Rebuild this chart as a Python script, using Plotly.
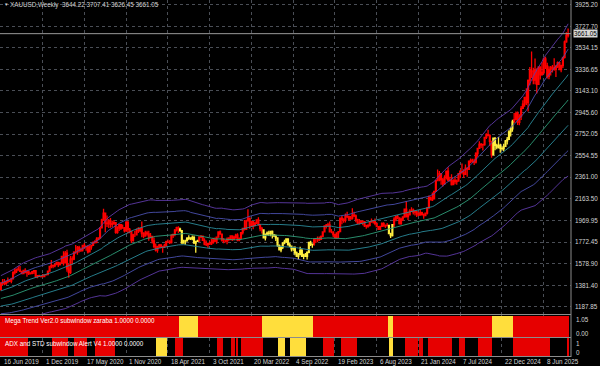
import numpy as np
import pandas as pd
import plotly.graph_objects as go

# ---------------- DATA ----------------
# weekly closes before the visible window (Jul 2018 - 9 Jun 2019), only used by the band indicator
hist_close = [1255, 1241, 1231, 1222, 1214, 1212, 1184, 1206, 1201, 1198, 1194, 1201, 1192, 1203,
              1218, 1227, 1233, 1232, 1209, 1222, 1222, 1222, 1248, 1238, 1257, 1278, 1286,
              1290, 1281, 1303, 1318, 1314, 1322, 1329, 1294, 1298, 1303, 1313, 1292, 1291, 1291,
              1276, 1286, 1280, 1286, 1277, 1284, 1305, 1341, 1341]

first_open = 1341.0

# visible weekly bars, 16 Jun 2019 ... 14 Sep 2025
close = [
    # 2019
    1400, 1409, 1399, 1415, 1426, 1419, 1440, 1496, 1513, 1527, 1520, 1507, 1488, 1516, 1497, 1504,
    1488, 1490, 1505, 1514, 1459, 1468, 1462, 1463, 1460, 1476, 1478, 1510, 1552,
    # 2020
    1562, 1557, 1571, 1589, 1570, 1584, 1643, 1585, 1673, 1530, 1498, 1618, 1620, 1683, 1683, 1726,
    1700, 1702, 1743, 1735, 1730, 1684, 1730, 1743, 1771, 1774, 1798, 1810, 1902, 1975, 2035, 1944,
    1940, 1964, 1934, 1940, 1950, 1861, 1900, 1930, 1899, 1902, 1878, 1951, 1889, 1871, 1788, 1839,
    1839, 1881, 1877, 1898,
    # 2021
    1849, 1828, 1856, 1847, 1814, 1824, 1784, 1734, 1700, 1727, 1745, 1732, 1728, 1744, 1777, 1777,
    1769, 1831, 1843, 1881, 1903, 1891, 1877, 1764, 1781, 1784, 1808, 1812, 1802, 1814, 1763, 1780,
    1781, 1819, 1827, 1788, 1754, 1750, 1761, 1757, 1768, 1793, 1783, 1818, 1865, 1846, 1792, 1783,
    1783, 1798, 1811, 1829,
    # 2022
    1797, 1817, 1835, 1791, 1807, 1859, 1898, 1889, 1966, 1989, 1921, 1958, 1925, 1946, 1974, 1931,
    1896, 1883, 1811, 1846, 1853, 1851, 1871, 1839, 1827, 1811, 1742, 1703, 1727, 1766, 1775, 1802,
    1747, 1737, 1712, 1717, 1675, 1644, 1660, 1695, 1644, 1657, 1644, 1681, 1771, 1751, 1755, 1797,
    1797, 1793, 1798, 1824,
    # 2023
    1865, 1920, 1926, 1928, 1865, 1865, 1842, 1811, 1856, 1868, 1989, 1978, 1969, 2007, 2004, 1982,
    1990, 2017, 2011, 1977, 1946, 1948, 1961, 1958, 1921, 1919, 1925, 1955, 1962, 1959, 1942, 1913,
    1889, 1915, 1940, 1919, 1924, 1925, 1849, 1833, 1932, 1981, 2006, 1993, 1940, 1981, 2002, 2072,
    2004, 2019, 2053, 2063,
    # 2024
    2045, 2049, 2029, 2018, 2039, 2024, 2013, 2035, 2083, 2179, 2155, 2165, 2233, 2330, 2344, 2392,
    2337, 2301, 2360, 2415, 2334, 2327, 2293, 2332, 2321, 2326, 2392, 2411, 2400, 2386, 2442, 2431,
    2507, 2512, 2503, 2497, 2577, 2622, 2658, 2653, 2657, 2721, 2747, 2737, 2685, 2563, 2715, 2650,
    2633, 2648, 2622, 2621, 2640,
    # 2025
    2690, 2703, 2771, 2798, 2861, 2883, 2936, 2858, 2910, 2984, 3022, 3084, 3037, 3237, 3327, 3319,
    3240, 3325, 3203, 3358, 3289, 3310, 3432, 3368, 3274, 3337, 3355, 3350, 3337, 3362, 3398, 3336,
    3371, 3447, 3586, 3644.22, 3661.05,
]

high = [
    1411, 1439, 1438, 1426, 1453, 1433, 1449, 1510, 1535, 1530, 1555, 1557, 1511, 1523, 1535, 1519,
    1517, 1499, 1507, 1518, 1516, 1472, 1478, 1467, 1485, 1481, 1483, 1514, 1553,
    1611, 1563, 1576, 1591, 1591, 1585, 1649, 1689, 1692, 1703, 1575, 1646, 1645, 1690, 1747, 1738,
    1740, 1722, 1744, 1765, 1735, 1745, 1745, 1746, 1779, 1789, 1818, 1818, 1903, 1984, 2075, 2040,
    2015, 1982, 1992, 1966, 1973, 1951, 1917, 1931, 1933, 1932, 1910, 1965, 1966, 1900, 1875, 1848,
    1875, 1896, 1907, 1900,
    1959, 1863, 1875, 1875, 1875, 1855, 1826, 1815, 1760, 1740, 1755, 1756, 1740, 1758, 1785, 1797,
    1790, 1845, 1845, 1891, 1912, 1916, 1903, 1878, 1795, 1795, 1818, 1834, 1816, 1832, 1832, 1782,
    1794, 1823, 1834, 1827, 1808, 1787, 1764, 1781, 1800, 1813, 1814, 1818, 1869, 1877, 1849, 1808,
    1793, 1815, 1816, 1831,
    1831, 1830, 1848, 1853, 1814, 1865, 1902, 1974, 1975, 2070, 1996, 1966, 1960, 1949, 1978, 1998,
    1936, 1910, 1884, 1849, 1870, 1875, 1875, 1879, 1847, 1841, 1814, 1752, 1739, 1767, 1795, 1807,
    1804, 1766, 1740, 1729, 1735, 1688, 1675, 1730, 1712, 1668, 1675, 1682, 1773, 1786, 1760, 1804,
    1810, 1824, 1823, 1833,
    1869, 1922, 1937, 1949, 1959, 1891, 1870, 1848, 1858, 1870, 1990, 2009, 1988, 2032, 2048, 2015,
    2009, 2079, 2048, 2022, 1985, 1983, 1971, 1971, 1962, 1931, 1935, 1963, 1987, 1973, 1987, 1935,
    1916, 1922, 1953, 1953, 1933, 1947, 1926, 1857, 1934, 1997, 2009, 2019, 1993, 1993, 2007, 2075,
    2146, 2047, 2070, 2088,
    2078, 2062, 2060, 2041, 2065, 2049, 2031, 2041, 2088, 2195, 2185, 2222, 2236, 2330, 2431, 2417,
    2392, 2354, 2378, 2422, 2450, 2364, 2388, 2342, 2368, 2339, 2393, 2425, 2484, 2433, 2477, 2447,
    2510, 2531, 2529, 2529, 2586, 2626, 2686, 2670, 2657, 2722, 2759, 2790, 2750, 2691, 2721, 2722,
    2665, 2726, 2665, 2638, 2665,
    2697, 2725, 2786, 2817, 2882, 2942, 2955, 2956, 2930, 3005, 3057, 3087, 3167, 3245, 3358, 3500,
    3353, 3435, 3348, 3366, 3365, 3403, 3446, 3452, 3398, 3365, 3369, 3377, 3439, 3377, 3409, 3404,
    3379, 3453, 3600, 3674, 3707.41,
]

low = [
    1340, 1382, 1381, 1385, 1400, 1412, 1400, 1437, 1480, 1492, 1516, 1502, 1484, 1486, 1492, 1459,
    1474, 1480, 1481, 1484, 1456, 1445, 1456, 1452, 1457, 1458, 1472, 1477, 1509,
    1535, 1536, 1546, 1563, 1548, 1562, 1582, 1562, 1585, 1504, 1451, 1484, 1567, 1608, 1668, 1659,
    1679, 1683, 1687, 1717, 1695, 1670, 1684, 1704, 1741, 1757, 1763, 1791, 1807, 1901, 1966, 1863,
    1910, 1900, 1902, 1907, 1930, 1849, 1848, 1873, 1883, 1893, 1860, 1864, 1850, 1854, 1764, 1777,
    1819, 1833, 1856, 1863,
    1817, 1808, 1834, 1831, 1785, 1808, 1761, 1717, 1687, 1677, 1719, 1718, 1676, 1720, 1731, 1765,
    1756, 1760, 1809, 1825, 1870, 1856, 1866, 1761, 1765, 1750, 1782, 1792, 1793, 1790, 1759, 1677,
    1775, 1779, 1810, 1782, 1745, 1737, 1721, 1746, 1746, 1759, 1772, 1758, 1816, 1844, 1778, 1762,
    1770, 1753, 1781, 1789,
    1782, 1790, 1804, 1780, 1780, 1807, 1842, 1879, 1890, 1966, 1895, 1909, 1890, 1915, 1938, 1920,
    1872, 1851, 1807, 1787, 1832, 1829, 1825, 1805, 1822, 1784, 1732, 1697, 1681, 1711, 1754, 1765,
    1745, 1728, 1688, 1691, 1654, 1639, 1615, 1660, 1640, 1617, 1639, 1616, 1673, 1737, 1721, 1741,
    1765, 1772, 1784, 1795,
    1824, 1867, 1896, 1911, 1861, 1853, 1819, 1805, 1804, 1809, 1868, 1935, 1949, 1950, 1991, 1969,
    1975, 1977, 2000, 1952, 1937, 1932, 1939, 1925, 1910, 1893, 1903, 1915, 1950, 1942, 1926, 1910,
    1885, 1884, 1913, 1914, 1901, 1914, 1846, 1810, 1823, 1909, 1961, 1979, 1932, 1931, 1965, 1993,
    1995, 1973, 2016, 2052,
    2024, 2013, 2001, 2009, 2016, 2014, 1984, 2010, 2024, 2076, 2150, 2146, 2163, 2228, 2325, 2324,
    2292, 2277, 2293, 2339, 2325, 2323, 2286, 2287, 2296, 2293, 2319, 2351, 2394, 2353, 2383, 2364,
    2429, 2487, 2491, 2472, 2485, 2546, 2618, 2625, 2603, 2646, 2708, 2731, 2643, 2537, 2564, 2605,
    2613, 2621, 2583, 2603, 2596,
    2634, 2657, 2699, 2730, 2772, 2858, 2877, 2833, 2832, 2880, 2982, 2999, 3015, 2957, 3194, 3260,
    3202, 3202, 3120, 3205, 3245, 3282, 3294, 3340, 3255, 3247, 3283, 3310, 3325, 3268, 3351, 3330,
    3311, 3350, 3436, 3579, 3626.45,
]

date_tick_bars = [0, 24, 48, 72, 96, 120, 144, 168, 192, 216, 240, 264, 288, 312]
date_tick_text = ["16 Jun 2019", "1 Dec 2019", "17 May 2020", "1 Nov 2020", "18 Apr 2021",
                  "3 Oct 2021", "20 Mar 2022", "4 Sep 2022", "19 Feb 2023", "6 Aug 2023",
                  "21 Jan 2024", "7 Jul 2024", "22 Dec 2024", "8 Jun 2025"]

price_ticks = [3925.20, 3727.70, 3534.15, 3336.65, 3143.10, 2945.60, 2752.05, 2554.55,
               2361.00, 2163.50, 1969.95, 1772.45, 1578.90, 1381.40, 1187.85]
price_tick_text = ["3925.20", "3727.70", "3534.15", "3336.65", "3143.10", "2945.60", "2752.05",
                   "2554.55", "2361.00", "2163.50", "1969.95", "1772.45", "1578.90", "1381.40",
                   "1187.85"]

# Mega Trend state per run of weekly bars
mega_trend_runs = [("red", 103), ("yellow", 11), ("red", 37), ("yellow", 29), ("red", 43),
                   ("yellow", 3), ("red", 57), ("yellow", 12), ("red", 32)]
# ADX and STD alert state per run of weekly bars
adx_std_runs = [("red", 16), ("off", 14), ("red", 9), ("off", 4), ("red", 7), ("off", 5),
                ("red", 11), ("off", 24), ("yellow", 6), ("off", 5), ("red", 4), ("off", 20),
                ("red", 3), ("off", 5), ("red", 2), ("off", 1), ("red", 1), ("off", 2),
                ("red", 12), ("off", 9), ("yellow", 4), ("off", 3), ("yellow", 9), ("off", 10),
                ("red", 6), ("off", 4), ("red", 9), ("off", 19), ("yellow", 2), ("off", 7),
                ("red", 7), ("off", 1), ("red", 2), ("off", 3), ("red", 14), ("off", 4),
                ("red", 3), ("off", 8), ("red", 8), ("off", 12), ("red", 21), ("off", 10),
                ("red", 1)]

header_text = "XAUUSD,Weekly  3644.22 3707.41 3626.45 3661.05"
bid_price = 3661.05

# ---------------- PREP ----------------
n = len(close)
assert len(high) == n and len(low) == n
bars = list(range(n))
opens = [first_open] + close[:-1]
hi = [max(h, o, c) for h, o, c in zip(high, opens, close)]
lo = [min(l, o, c) for l, o, c in zip(low, opens, close)]


def expand(runs):
    out = []
    for state, cnt in runs:
        out += [state] * cnt
    return out


mega = expand(mega_trend_runs)
adx = expand(adx_std_runs)
assert len(mega) == n and len(adx) == n

# band indicator (moving average with volatility envelopes)
allc = pd.Series(hist_close + close, dtype=float)
N = 50
mid = allc.rolling(N).mean()
sd = allc.rolling(N).std()
w = 0.3 * sd + 0.043 * mid
mid = mid.iloc[-n:].to_numpy()
w = w.iloc[-n:].to_numpy()

RED = "#ff0000"
YEL = "#ffee40"
BLK_RED = "#e60000"
BLK_YEL = "#ffde3c"
FG = "#d4d4d4"
GRID = "#4a4e56"
FONT = "Liberation Sans"
FS = 6.3

fig = go.Figure()

band_colors = {3: "#5e3aa8", 2: "#4a4fae", 1: "#2a8a9a", 0: "#2e9c78"}
for k in [3, 2, 1, 0, -1, -2, -3]:
    fig.add_trace(go.Scatter(x=bars, y=mid + k * w, mode="lines",
                             line=dict(color=band_colors[abs(k)], width=0.9),
                             xaxis="x", yaxis="y", hoverinfo="skip"))

for state, col in [("red", RED), ("yellow", YEL)]:
    idx = [i for i in bars if mega[i] == state]
    fig.add_trace(go.Candlestick(
        x=idx, open=[opens[i] for i in idx], high=[hi[i] for i in idx],
        low=[lo[i] for i in idx], close=[close[i] for i in idx],
        increasing=dict(line=dict(color=col, width=1.3), fillcolor=col),
        decreasing=dict(line=dict(color=col, width=1.3), fillcolor=col),
        whiskerwidth=0, xaxis="x", yaxis="y", hoverinfo="skip"))

fig.add_trace(go.Bar(x=bars, y=[1] * n, width=1,
                     marker=dict(color=[BLK_RED if s == "red" else BLK_YEL for s in mega],
                                 line=dict(width=0)),
                     xaxis="x2", yaxis="y2", hoverinfo="skip"))
fig.add_trace(go.Bar(x=bars, y=[0 if s == "off" else 1 for s in adx], width=1,
                     marker=dict(color=[BLK_YEL if s == "yellow" else BLK_RED for s in adx],
                                 line=dict(width=0)),
                     xaxis="x3", yaxis="y3", hoverinfo="skip"))

# geometry of the panes (pixels of the 357px tall plotting area)
H = 357.0
def fy(px):
    return (H - px) / H

xr = [-0.5, -0.5 + 571 / 1.74]
xgrid = dict(range=xr, tickvals=date_tick_bars, showticklabels=False, showgrid=True,
             gridcolor=GRID, griddash="dot", gridwidth=1, zeroline=False, showline=False,
             ticks="", fixedrange=True)

fig.update_layout(
    width=600, height=366,
    margin=dict(l=0, r=29, t=0, b=9),
    paper_bgcolor="black", plot_bgcolor="black",
    showlegend=False, bargap=0, barmode="overlay",
    font=dict(family=FONT, size=FS, color=FG),
    xaxis=dict(**xgrid, anchor="y", domain=[0, 1], rangeslider=dict(visible=False)),
    xaxis2=dict(**xgrid, anchor="y2", domain=[0, 1], matches="x"),
    xaxis3=dict(**xgrid, anchor="y3", domain=[0, 1], matches="x"),
    yaxis=dict(domain=[fy(314), 1], range=[1121.7, 3966.0], side="right",
               tickvals=price_ticks, ticktext=price_tick_text, showgrid=True,
               gridcolor=GRID, griddash="dot", zeroline=False, ticks="",
               ticklabelstandoff=3, tickfont=dict(size=FS, color=FG, family=FONT)),
    yaxis2=dict(domain=[fy(337), fy(315)], range=[0, 1.05], showticklabels=False,
                showgrid=False, zeroline=False),
    yaxis3=dict(domain=[fy(356.5), fy(338)], range=[0, 1], showticklabels=False,
                showgrid=False, zeroline=False),
)

shapes = []
border = "#8c8c8c"
# bid line
shapes.append(dict(type="line", xref="paper", yref="y", x0=0, x1=1, y0=bid_price, y1=bid_price,
                   line=dict(color="#9a9a9a", width=1)))
# pane separators / frame
for py in [314.5, 337.5, 356.5]:
    shapes.append(dict(type="line", xref="paper", yref="paper", x0=0, x1=1,
                       y0=fy(py), y1=fy(py), line=dict(color=border, width=1)))
shapes.append(dict(type="line", xref="paper", yref="paper", x0=1, x1=1, y0=fy(357), y1=1,
                   line=dict(color=border, width=1)))
fig.update_layout(shapes=shapes)

ann = []
ann.append(dict(xref="paper", yref="paper", x=0.003, y=fy(5), xanchor="left", yanchor="middle",
                text="\u25BC", showarrow=False, font=dict(size=4.5, color=FG)))
ann.append(dict(xref="paper", yref="paper", x=0.014, y=fy(5), xanchor="left", yanchor="middle",
                text=header_text, showarrow=False, font=dict(size=FS, color=FG)))
ann.append(dict(xref="paper", yref="y", x=1.0, y=bid_price, xanchor="left", yanchor="middle",
                text="3661.05", showarrow=False, bgcolor="#d8d8d8", borderpad=0,
                font=dict(size=FS, color="black"), xshift=2))
ann.append(dict(xref="paper", yref="paper", x=0.005, y=fy(320.5), xanchor="left",
                yanchor="middle", showarrow=False,
                text="Mega Trend Ver2.0 subwindow zaraba 1.0000 0.0000",
                font=dict(size=FS, color="white")))
ann.append(dict(xref="paper", yref="paper", x=0.005, y=fy(343), xanchor="left",
                yanchor="middle", showarrow=False,
                text="ADX and STD subwindow Alert V4 1.0000 0.0000",
                font=dict(size=FS, color="white")))
for txt, py in [("1.05", 319.5), ("0.00", 333.5), ("1", 343), ("0", 352.5)]:
    ann.append(dict(xref="paper", yref="paper", x=1.0, y=fy(py), xanchor="left",
                    yanchor="middle", showarrow=False, text=txt, xshift=3,
                    font=dict(size=FS, color=FG)))
for b, t in zip(date_tick_bars, date_tick_text):
    ann.append(dict(xref="x", yref="paper", x=b, y=fy(361.5), xanchor="left",
                    yanchor="middle", showarrow=False, text=t, xshift=1,
                    font=dict(size=FS, color=FG)))
fig.update_layout(annotations=ann)

fig.write_html("out.html")
